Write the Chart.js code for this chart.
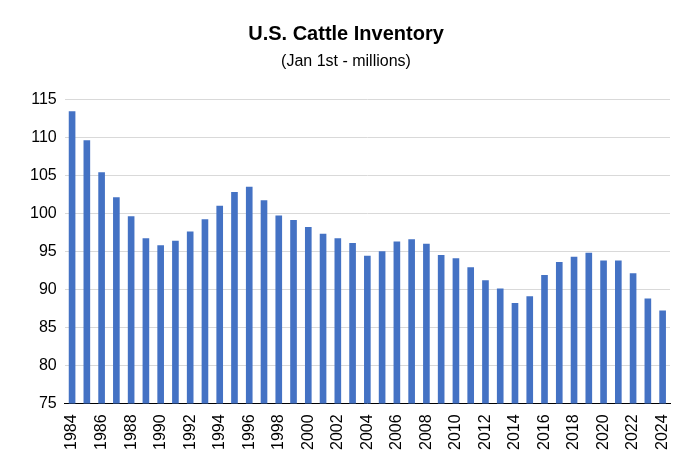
<!DOCTYPE html>
<html>
<head>
<meta charset="utf-8">
<script src="https://cdn.jsdelivr.net/npm/chart.js@4/dist/chart.umd.min.js"></script>
<style>
  html, body { margin: 0; padding: 0; background: #fff; }
  #wrap { width: 690px; height: 465px; }
</style>
</head>
<body>
<div id="wrap"><canvas id="chart"></canvas></div>
<script>
// ─── 데이터 ───
const years = [];
for (let y = 1984; y <= 2024; y++) years.push(String(y));
const inventory = [
  113.4, 109.6, 105.4, 102.1, 99.6, 96.7, 95.8, 96.4, 97.6, 99.2,
  101.0, 102.8, 103.5, 101.7, 99.7, 99.1, 98.2, 97.3, 96.7, 96.1,
  94.4, 95.0, 96.3, 96.6, 96.0, 94.5, 94.1, 92.9, 91.2, 90.1,
  88.2, 89.1, 91.9, 93.6, 94.3, 94.8, 93.8, 93.8, 92.1, 88.8,
  87.2
];
const yTicks = [75, 80, 85, 90, 95, 100, 105, 110, 115];

const FONT = "'Liberation Sans', Arial, sans-serif";

new Chart(document.getElementById('chart'), {
  type: 'bar',
  data: {
    labels: years,
    datasets: [{
      data: inventory,
      backgroundColor: '#4472C4',
      categoryPercentage: 1,
      barPercentage: 0.45,
    }],
  },
  options: {
    responsive: true,
    maintainAspectRatio: false,
    animation: false,
    layout: { padding: { left: 22, right: 20, top: 18, bottom: 12 } },
    plugins: {
      legend: { display: false },
      tooltip: { enabled: false },
      title: {
        display: true,
        text: 'U.S. Cattle Inventory',
        color: '#000',
        font: { family: FONT, size: 20, weight: 'bold' },
        padding: { top: 4, bottom: 6 },
      },
      subtitle: {
        display: true,
        text: '(Jan 1st - millions)',
        color: '#000',
        font: { family: FONT, size: 16 },
        padding: { bottom: 28 },
      },
    },
    scales: {
      x: {
        grid: { display: false },
        border: { color: '#000' },
        ticks: {
          autoSkip: false,
          maxRotation: 90,
          minRotation: 90,
          color: '#000',
          font: { family: FONT, size: 16 },
          callback: (v, i) => (i % 2 === 0 ? years[i] : ''),
        },
      },
      y: {
        min: yTicks[0],
        max: yTicks[yTicks.length - 1],
        afterBuildTicks: (axis) => { axis.ticks = yTicks.map((v) => ({ value: v })); },
        grid: { color: '#d9d9d9', drawTicks: false },
        border: { display: false },
        ticks: { color: '#000', padding: 8, font: { family: FONT, size: 16 } },
      },
    },
  },
});
</script>
</body>
</html>
